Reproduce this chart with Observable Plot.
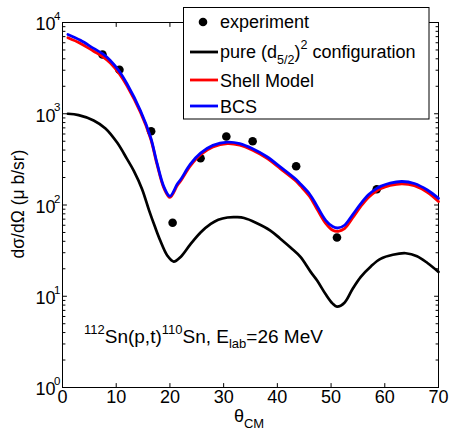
<!DOCTYPE html>
<html><head><meta charset="utf-8">
<script src="https://cdn.jsdelivr.net/npm/d3@7"></script>
<script src="https://cdn.jsdelivr.net/npm/@observablehq/plot@0.6"></script>
<style>body{margin:0;background:#fff} svg{font-family:"Liberation Sans",Arial,sans-serif}</style>
</head><body><div id="chart"></div><script>
// Experimental points
const expAngle = [7.45, 10.6, 16.5, 20.5, 25.7, 30.5, 35.4, 43.5, 51.1, 58.5];
const expValue = [4460, 3030, 644, 64, 326, 563, 500, 266, 44, 149];

// pure (d5/2)^2 configuration
const pureAngle = [1, 3, 5.8, 8, 10.2, 12, 13.3, 14.8, 16.1, 17.2, 18.2, 19.5, 20.7, 22, 23.8, 25.7, 27.6, 29, 30.7, 32.5, 33.8, 36, 38.7, 40.5, 42.5, 44.3, 46.2, 47.4, 49, 50.3, 51.1, 52.5, 54, 55.5, 57.5, 59.2, 61.5, 63.9, 66, 68, 70];
const pureValue = [1000, 965, 845, 690, 480, 320, 235, 150, 88, 58, 40.8, 28, 24, 27, 37, 50, 62, 69, 73, 73.5, 72, 64, 52.5, 43, 34, 27, 18.5, 14.9, 10.5, 8.3, 7.7, 8.5, 12, 16.2, 21.5, 25.7, 28.5, 29.6, 27.5, 23, 18.5];

// Shell Model
const shellAngle = [1, 3.35, 5.8, 7.45, 8.9, 10.6, 12, 14.5, 16.4, 17.6, 18.9, 20, 21.4, 22, 23.8, 25.7, 28, 30.7, 33, 35.4, 38, 40.6, 43.5, 44.3, 46, 47.4, 49, 50.3, 51.3, 52.5, 54, 55.5, 57, 58.5, 59.2, 61, 63.2, 65.5, 68, 70];
const shellValue = [6800, 5900, 4850, 4230, 3600, 2730, 2020, 1040, 535, 278, 152, 121, 165, 183, 268, 355, 432, 470, 452, 397, 326, 249, 182, 162, 124, 90, 63, 53, 51.5, 55, 72, 96, 122, 143, 151, 164, 171, 163, 137, 109];

// BCS
const bcsAngle = [1, 3.35, 5.8, 7.45, 8.9, 10.6, 12, 14.5, 16.4, 17.6, 18.9, 20, 21.4, 22, 23.8, 25.7, 28, 30.7, 33, 35.4, 38, 40.6, 43.5, 44.3, 46, 47.4, 49, 50.3, 51.3, 52.5, 54, 55.5, 57, 58.5, 59.2, 61, 63.2, 65.5, 68, 70];
const bcsValue = [7390, 6380, 5200, 4550, 3835, 2900, 2130, 1086, 553, 287, 157, 125, 171, 190, 280, 370, 450, 488, 470, 413, 340, 260, 190, 170, 132, 97, 68, 58, 56, 60, 78, 103, 130, 152, 160, 174, 181, 172, 145, 118];

// Ticks
const xTicks = [0, 10, 20, 30, 40, 50, 60, 70];
const yMajor = [1, 10, 100, 1000, 10000];
const yExp = ["0", "1", "2", "3", "4"];
const yMinor = [2,3,4,5,6,7,8,9, 20,30,40,50,60,70,80,90, 200,300,400,500,600,700,800,900, 2000,3000,4000,5000,6000,7000,8000,9000];

const toRows = (xs, ys) => xs.map((a, i) => ({a, v: ys[i]}));
const tickShape = {draw(context, l) { context.moveTo(0, 0); context.lineTo(0, -l); }};
const tk = (data, opts) => Plot.vector(data, {anchor: "start", shape: tickShape, stroke: "black", strokeWidth: 1, ...opts});

const chart = Plot.plot({
  width: 451, height: 434,
  marginLeft: 62, marginRight: 13, marginTop: 22, marginBottom: 47,
  style: {fontFamily: "Liberation Sans, Arial, sans-serif", background: "white", overflow: "visible"},
  x: {domain: [0, 70], axis: null},
  y: {type: "log", domain: [1, 1e4], axis: null},
  marks: [
    Plot.frame({stroke: "black", strokeWidth: 1}),
    tk(xTicks, {x: d => d, frameAnchor: "bottom", rotate: 0, length: 4}),
    tk(xTicks, {x: d => d, frameAnchor: "top", rotate: 180, length: 4}),
    tk(yMajor, {y: d => d, frameAnchor: "left", rotate: 90, length: 4}),
    tk(yMajor, {y: d => d, frameAnchor: "right", rotate: -90, length: 4}),
    tk(yMinor, {y: d => d, frameAnchor: "left", rotate: 90, length: 2.5}),
    tk(yMinor, {y: d => d, frameAnchor: "right", rotate: -90, length: 2.5}),
    Plot.text(xTicks, {x: d => d, frameAnchor: "bottom", text: d => String(d), dy: 15, fontSize: 18, fill: "black"}),
    Plot.text(yMajor, {y: d => d, frameAnchor: "left", text: () => "10", textAnchor: "end", dx: -7, dy: 2, fontSize: 18, fill: "black"}),
    Plot.text(yMajor, {y: d => d, frameAnchor: "left", text: (d, i) => yExp[i], textAnchor: "end", dx: -2, dy: -6, fontSize: 11.5, fill: "black"}),
    Plot.dot(toRows(expAngle, expValue), {x: "a", y: "v", r: 4.3, fill: "black", stroke: "none"}),
    Plot.line(toRows(pureAngle, pureValue), {x: "a", y: "v", stroke: "black", strokeWidth: 2.7, curve: "catmull-rom"}),
    Plot.line(toRows(shellAngle, shellValue), {x: "a", y: "v", stroke: "#ff0000", strokeWidth: 2.8, curve: "catmull-rom"}),
    Plot.line(toRows(bcsAngle, bcsValue), {x: "a", y: "v", stroke: "#0000ff", strokeWidth: 2.8, curve: "catmull-rom"})
  ]
});
document.getElementById("chart").appendChild(chart);

const svg = d3.select(chart);
const F = "Liberation Sans, Arial, sans-serif";

// axis titles
svg.append("text").attr("transform", "translate(24,204) rotate(-90)")
  .attr("text-anchor", "middle").attr("font-size", 17.5).attr("font-family", F).attr("fill", "black")
  .text("dσ/dΩ (μ b/sr)");
const xl = svg.append("text").attr("x", 249).attr("y", 422).attr("text-anchor", "middle")
  .attr("font-size", 18).attr("font-family", F).attr("fill", "black");
xl.append("tspan").text("θ");
xl.append("tspan").attr("font-size", 13).attr("dy", 6).text("CM");

// annotation
const an = svg.append("text").attr("x", 84).attr("y", 343).attr("text-anchor", "start")
  .attr("font-size", 19).attr("font-family", F).attr("fill", "black");
an.append("tspan").attr("font-size", 13).attr("dy", -9).text("112");
an.append("tspan").attr("dy", 9).text("Sn(p,t)");
an.append("tspan").attr("font-size", 13).attr("dy", -9).text("110");
an.append("tspan").attr("dy", 9).text("Sn, E");
an.append("tspan").attr("font-size", 13).attr("dy", 5).text("lab");
an.append("tspan").attr("dy", -5).text("=26 MeV");

// legend
const lg = svg.append("g").attr("font-family", F).attr("font-size", 18).attr("fill", "black").attr("text-anchor", "start");
lg.append("rect").attr("x", 183.5).attr("y", 7.5).attr("width", 245.5).attr("height", 111.5)
  .attr("fill", "white").attr("stroke", "black").attr("stroke-width", 1);
lg.append("circle").attr("cx", 203).attr("cy", 22).attr("r", 4.3).attr("fill", "black");
lg.append("text").attr("x", 220).attr("y", 28).text("experiment");
const rows = [["black", 52], ["#ff0000", 80], ["#0000ff", 106]];
rows.forEach(([c, y]) => lg.append("line").attr("x1", 190).attr("x2", 218).attr("y1", y).attr("y2", y)
  .attr("stroke", c).attr("stroke-width", 2.8));
const t2 = lg.append("text").attr("x", 220).attr("y", 58);
t2.append("tspan").text("pure (d");
t2.append("tspan").attr("font-size", 12.5).attr("dy", 6).text("5/2");
t2.append("tspan").attr("dy", -6).text(")");
t2.append("tspan").attr("font-size", 12.5).attr("dy", -9).text("2");
t2.append("tspan").attr("dy", 9).text(" configuration");
lg.append("text").attr("x", 220).attr("y", 86.5).text("Shell Model");
lg.append("text").attr("x", 220).attr("y", 112.5).text("BCS");
</script></body></html>
